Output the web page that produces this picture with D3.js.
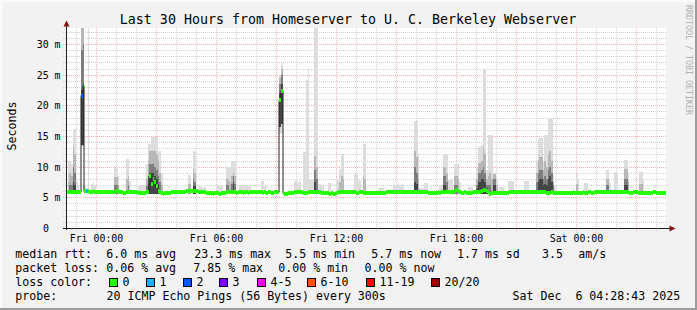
<!DOCTYPE html>
<html><head><meta charset="utf-8">
<script src="https://cdn.jsdelivr.net/npm/d3@7"></script>
<style>
body{margin:0;background:#f2f2f2}
svg{display:block}
text{font-family:"DejaVu Sans Mono",monospace;fill:#000;white-space:pre}
</style>
</head><body>
<svg id="c" width="697" height="310"></svg>
<script>
// ---------------- DATA ----------------
const titleText = "Last 30 Hours from Homeserver to U. C. Berkeley Webserver";
const yAxisTitle = "Seconds";
const watermark = "RRDTOOL / TOBI OETIKER";
const startTime = new Date(2025, 11, 4, 22, 30);   // Thu 22:30
const endTime   = new Date(2025, 11, 6, 4, 30);    // Sat 04:30
const stepMinutes = 5;                              // one slot = 5 minutes

// median rtt (ms), one row per hour, 12 slots of 5 min each, starting Thu 22:30
const median = [
  5.9,5.9,5.85,5.9,5.95,5.9,5.85,5.9,5.9,21.6,23.2,6.0,
  6.0,6.0,5.95,5.95,6.0,5.9,5.9,5.85,5.9,5.9,5.85,5.9,
  5.9,5.9,5.85,5.9,5.9,5.95,6.05,6.1,5.95,5.8,5.75,5.75,
  5.85,5.9,5.9,5.85,5.85,5.8,5.8,5.75,5.7,5.7,5.7,5.75,
  5.8,5.9,8.4,7.2,8.0,7.5,6.8,6.1,5.8,5.7,5.6,5.65,
  5.7,5.7,5.75,5.8,5.85,5.9,5.9,5.85,5.9,5.85,5.8,5.85,
  6.05,6.1,6.05,6.0,6.05,6.1,6.0,5.95,5.9,5.9,5.85,5.8,
  5.75,5.7,5.65,5.65,5.6,5.65,5.7,5.65,5.6,5.65,5.7,5.75,
  5.85,5.9,5.9,5.85,5.85,5.8,5.75,5.8,5.85,5.8,5.75,5.8,
  5.8,5.75,5.8,5.9,5.95,5.95,5.9,5.85,5.8,5.8,5.75,5.8,
  5.75,5.8,5.8,5.75,5.75,5.8,5.8,5.8,20.8,22.4,5.65,5.6,
  5.6,5.65,5.7,5.75,5.75,5.8,5.8,5.8,5.85,5.8,5.75,5.75,
  5.75,5.8,5.8,5.85,5.85,5.9,5.9,5.85,5.8,5.75,5.7,5.65,
  5.7,5.65,5.6,5.65,5.5,5.6,5.75,5.85,5.9,5.9,5.85,5.9,
  5.9,5.85,5.85,5.8,5.8,5.8,5.75,5.75,5.8,5.8,5.75,5.75,
  5.75,5.75,5.7,5.7,5.7,5.75,5.7,5.7,5.65,5.65,5.7,5.75,
  5.8,5.85,5.9,5.9,5.9,5.95,5.95,5.9,5.9,5.85,5.85,5.9,
  5.9,5.85,5.85,5.85,5.9,5.9,5.85,5.85,5.85,5.9,5.85,5.8,
  5.8,5.75,5.75,5.75,5.7,5.75,5.75,5.8,5.75,5.8,5.85,5.85,
  5.85,5.8,5.8,5.85,5.9,6.0,6.2,6.05,5.8,5.75,5.75,5.8,
  5.75,5.7,5.7,5.75,5.8,5.8,5.85,5.9,5.95,6.0,6.2,6.25,
  6.1,5.8,5.6,5.65,5.7,5.75,5.7,5.75,5.7,5.75,5.7,5.75,
  5.75,5.75,5.8,5.85,5.9,5.95,5.95,5.95,5.9,5.9,5.9,5.85,
  5.85,5.8,5.8,5.8,5.85,5.85,5.9,5.9,5.9,5.85,5.9,5.85,
  5.7,5.7,5.75,5.8,5.75,5.7,5.75,5.75,5.7,5.75,5.75,5.7,
  5.75,5.75,5.7,5.75,5.8,5.75,5.75,5.7,5.7,5.75,5.8,5.75,
  5.75,5.8,5.8,5.75,5.75,5.8,5.8,5.85,5.85,5.85,5.8,5.85,
  5.85,5.85,5.8,5.85,5.9,5.9,5.85,5.85,5.85,5.9,5.9,5.85,
  5.8,5.8,5.75,5.75,5.8,5.85,5.8,5.75,5.75,5.7,5.75,5.75,
  5.75,5.75,5.7,5.75,5.8,5.8,5.75,5.75,5.75,5.7,5.75,5.7
];

// lost pings (out of 20) in the slots that had loss
const lossSlot  = [9, 10, 12];
const lossCount = [2, 2, 1];

// smoke: lowest ping of a slot, and the tops of the 4 gray bands [slot, ms]
const smokeFloor = 5.5;
const raisedSlot  = [9, 10, 128, 129];
const raisedOuter = [13.2, 13.2, 15.3, 15.5];
const raisedInner = [13.5, 13.5, 16.5, 17.0];

const smokeOuter = [
 [1,11.0],[2,11.0],[3,10.5],[4,16.2],[5,16.2],[6,7.5],[7,7.0],[9,34],[10,34],[11,7.0],[13,34],
 [15,7.2],[16,7.5],[17,7.0],[29,9.9],[30,9.9],[31,8.5],[36,11.3],[37,11.3],[38,7.6],
 [43,6.8],[44,7.0],[45,7.0],[46,6.8],[47,6.9],[48,10.5],[49,13.7],[50,13.7],[51,14.8],[52,14.8],[53,14.8],[54,14.8],[55,12.6],[56,12.6],[57,9.0],
 [73,8.6],[74,8.6],[76,12.6],[77,12.6],[79,6.7],[80,6.8],[81,6.7],[82,6.6],[83,6.7],
 [90,6.9],[91,7.0],[92,6.9],[93,6.8],[96,9.9],[97,9.9],[98,9.9],[99,11.0],[100,11.0],[101,11.0],
 [104,7.0],[105,7.0],[106,6.9],[107,7.0],[108,7.0],[109,6.9],[110,7.0],[117,7.6],[118,7.6],[119,6.8],
 [128,25.0],[129,26.9],[137,7.6],[138,7.6],[139,7.4],[140,7.6],[142,12.4],[143,12.4],[144,24.1],[145,26.0],[146,7.8],[147,7.8],[148,7.8],[149,34],[150,34],[151,7.2],[152,7.2],[153,7.0],[154,7.2],
 [157,7.4],[158,7.4],[162,7.8],[163,7.8],[164,9.7],[165,12.1],[166,12.1],[173,8.8],[174,8.8],[175,8.0],[176,7.6],[178,13.7],[179,13.7],
 [187,6.6],[188,6.6],[189,6.6],[190,6.6],[196,7.3],[197,7.0],[198,7.2],[199,7.3],[200,7.0],[201,7.2],[202,7.0],
 [209,17.5],[210,17.5],[211,12.0],[212,6.6],[213,6.6],[214,6.6],[215,7.3],[216,7.3],[224,7.0],[225,7.0],[226,12.1],[227,12.1],[228,12.1],[229,7.8],[230,7.8],[231,7.8],[233,10.5],[234,10.5],[235,10.5],[236,7.5],
 [241,6.7],[242,6.7],[243,6.7],[246,10.0],[247,13.2],[248,13.2],[249,13.5],[250,25.9],[251,25.9],[252,9.5],[253,15.1],[254,15.1],[255,15.1],[256,9.0],[257,9.0],[258,8.0],
 [260,6.7],[261,6.7],[262,6.7],[265,7.6],[266,7.6],[267,7.6],[268,7.6],[275,7.6],[276,7.6],[277,7.6],
 [282,11.0],[283,14.4],[284,14.6],[285,14.6],[286,11.0],[287,15.1],[288,15.1],[289,17.7],[290,17.7],[291,17.7],[292,8.6],[293,7.0],
 [306,8.9],[307,8.0],[311,7.3],[312,7.3],[324,9.4],[325,9.4],[326,7.5],[329,9.1],[330,9.1],[335,11.1],[336,11.1],[337,9.0],[344,9.1],[345,9.1],[346,8.0]
];
const smokeBand2 = [
 [1,7.5],[2,9.0],[3,8.5],[4,13.2],[5,12.0],[9,33],[10,34],[29,8.3],[30,8.3],[31,7.0],[36,8.0],[37,8.5],
 [48,8.0],[49,11.0],[50,12.5],[51,12.5],[52,12.6],[53,12.6],[54,12.0],[55,11.0],[56,9.0],[57,7.0],
 [73,7.2],[74,7.2],[76,9.7],[77,9.0],[96,8.0],[97,8.0],[98,7.5],[99,8.5],[100,9.0],[101,8.5],
 [128,24.5],[129,26.0],[149,11.8],[150,10.0],[164,7.5],[165,8.5],[166,8.0],[178,8.5],[179,8.0],
 [209,12.5],[210,11.5],[211,8.0],[226,10.0],[227,10.0],[228,9.0],[233,8.5],[234,8.5],[235,8.0],
 [246,8.0],[247,10.6],[248,10.6],[249,11.0],[250,13.2],[251,12.0],[252,8.0],[253,8.5],[254,9.0],[255,8.0],[256,8.8],[257,8.8],[258,7.0],
 [282,9.0],[283,11.1],[284,11.6],[285,11.6],[286,9.5],[287,11.0],[288,10.0],[289,12.0],[290,12.6],[291,11.0],[292,7.5],
 [306,7.2],[324,8.0],[325,8.0],[335,9.7],[336,9.7],[337,7.5],[344,7.2],[345,7.2]
];
const smokeBand3 = [
 [2,7.0],[3,7.0],[4,10.0],[5,9.0],[9,29],[10,30],[29,7.0],[30,7.0],[37,7.0],
 [48,6.8],[49,8.5],[50,10.5],[51,10.5],[52,10.5],[53,10.0],[54,9.5],[55,8.5],[56,7.5],
 [76,8.0],[77,7.5],[96,7.0],[97,7.0],[99,7.2],[100,8.5],[101,7.2],
 [128,23.5],[129,25.0],[149,9.5],[150,8.0],[209,10.0],[210,9.0],[226,8.5],[227,8.5],[228,7.5],[233,7.0],[234,7.0],
 [246,7.0],[247,9.0],[248,9.0],[249,9.5],[250,10.0],[251,9.0],[252,7.0],[253,7.0],[254,7.0],[256,8.0],[257,8.0],
 [282,7.5],[283,9.0],[284,9.5],[285,9.5],[286,8.0],[287,8.5],[288,8.0],[289,9.5],[290,10.0],[291,9.0],[292,7.0],
 [324,7.0],[325,7.0],[335,8.0],[336,8.0]
];
const smokeBand4 = [
 [4,7.5],[5,7.0],[9,22.5],[10,23.5],[49,7.2],[50,9.0],[51,9.0],[52,9.0],[53,8.5],[54,8.0],[55,7.2],
 [76,6.8],[77,6.8],[100,7.5],[128,22.0],[129,23.5],[149,7.5],[209,7.5],[210,7.2],[226,7.0],[227,7.0],
 [246,6.3],[247,7.5],[248,7.5],[249,8.0],[250,8.0],[251,7.5],[252,6.5],[256,7.0],[257,7.0],
 [283,7.5],[284,8.0],[285,8.0],[286,7.0],[287,7.2],[288,7.0],[289,8.0],[290,8.5],[291,7.5],[335,7.0],[336,7.0]
];

// y axis ticks
const yTickValues = [0, 5, 10, 15, 20, 25, 30];
const yTickLabels = ["0", "5 m", "10 m", "15 m", "20 m", "25 m", "30 m"];

// legend
const rttStats  = ["median rtt:", "6.0 ms avg", "23.3 ms max", "5.5 ms min", "5.7 ms now", "1.7 ms sd", "3.5", "am/s"];
const lossStats = ["packet loss:", "0.06 % avg", "7.85 % max", "0.00 % min", "0.00 % now"];
const lossLegendTitle = "loss color:";
const lossLabels = ["0", "1", "2", "3", "4-5", "6-10", "11-19", "20/20"];
const lossColors = ["#26ff00", "#00b8ff", "#0059ff", "#7e00ff", "#ff00ff", "#ff5500", "#ff0000", "#a10000"];
const probeLine  = ["probe:", "20 ICMP Echo Pings (56 Bytes) every 300s", "Sat Dec  6 04:28:43 2025"];

// ---------------- DRAW ----------------
const W = 697, H = 310;
const svg = d3.select("#c");
const x = d3.scaleTime().domain([startTime, endTime]).range([66, 666]);
const y = d3.scaleLinear().domain([0, 32.61]).range([228, 28]);
const slotTime = i => d3.timeMinute.offset(startTime, i * stepMinutes);
const snap = v => Math.round(v) + 0.5;

// background + frame
svg.append("rect").attr("width", W).attr("height", H).attr("fill", "#f2f2f2");
svg.append("rect").attr("x", 0).attr("y", 0).attr("width", W).attr("height", 2).attr("fill", "#fafafa");
svg.append("rect").attr("x", 0).attr("y", 0).attr("width", 2).attr("height", H).attr("fill", "#fafafa");
svg.append("rect").attr("x", 0).attr("y", H - 2).attr("width", W).attr("height", 2).attr("fill", "#9c9c9c");
svg.append("rect").attr("x", W - 2).attr("y", 0).attr("width", 2).attr("height", H).attr("fill", "#9c9c9c");

// canvas
svg.append("rect").attr("x", x.range()[0]).attr("y", y.range()[1])
  .attr("width", x.range()[1] - x.range()[0]).attr("height", y.range()[0] - y.range()[1])
  .attr("fill", "#ffffff");

// grid
const grid = svg.append("g").attr("stroke-width", 1).attr("stroke-dasharray", "1,1").attr("fill", "none");
const hours = d3.timeHour.range(d3.timeHour.ceil(startTime), endTime);
hours.forEach(h => {
  const major = h.getHours() % 3 === 0;
  grid.append("line").attr("x1", snap(x(h))).attr("x2", snap(x(h)))
    .attr("y1", 28).attr("y2", 231)
    .attr("stroke", major ? "#f6b2b2" : "#d2d2d2");
});
d3.range(1, 33).forEach(v => {
  const major = v % 5 === 0;
  grid.append("line").attr("x1", 63).attr("x2", 666)
    .attr("y1", snap(y(v))).attr("y2", snap(y(v)))
    .attr("stroke", major ? "#f6b2b2" : "#d2d2d2");
});

// clip for data
svg.append("defs").append("clipPath").attr("id", "plotclip").append("rect")
  .attr("x", 66).attr("y", 28).attr("width", 600).attr("height", 200.5);
const plot = svg.append("g").attr("clip-path", "url(#plotclip)");

// smoke
const floorOuter = s => { const k = raisedSlot.indexOf(s); return k < 0 ? smokeFloor : raisedOuter[k]; };
const floorInner = s => { const k = raisedSlot.indexOf(s); return k < 0 ? smokeFloor : raisedInner[k]; };
const layers = [
  {data: smokeOuter, color: "#dddddd", floor: floorOuter},
  {data: smokeBand2, color: "#b7b7b7", floor: floorInner},
  {data: smokeBand3, color: "#7e7e7e", floor: floorInner},
  {data: smokeBand4, color: "#454545", floor: floorInner}
];
layers.forEach(L => {
  plot.append("g").attr("fill", L.color).attr("shape-rendering", "crispEdges")
    .selectAll("rect").data(L.data).join("rect")
    .attr("x", d => x(slotTime(d[0])))
    .attr("width", d => x(slotTime(d[0] + 1)) - x(slotTime(d[0])))
    .attr("y", d => y(d[1]))
    .attr("height", d => y(L.floor(d[0])) - y(d[1]));
});

// median: thin dark line
const medPts = median.map((v, i) => ({t: slotTime(i), v}));
medPts.push({t: endTime, v: median[median.length - 1]});
plot.append("path").datum(medPts)
  .attr("fill", "none").attr("stroke", "#202020").attr("stroke-width", 1)
  .attr("d", d3.line().x(d => snap(x(d.t)) - 0.5).y(d => y(d.v)).curve(d3.curveStepAfter));

// median: colored loss band
const lossClass = c => c === 0 ? 0 : c === 1 ? 1 : c === 2 ? 2 : c === 3 ? 3 : c <= 5 ? 4 : c <= 10 ? 5 : c <= 19 ? 6 : 7;
const medData = median.map((v, i) => {
  const k = lossSlot.indexOf(i);
  return {i, v, cls: lossClass(k < 0 ? 0 : lossCount[k])};
});
plot.append("g").attr("shape-rendering", "crispEdges")
  .selectAll("rect").data(medData).join("rect")
  .attr("x", d => x(slotTime(d.i)))
  .attr("width", d => x(slotTime(d.i + 1)) - x(slotTime(d.i)))
  .attr("y", d => Math.round(y(d.v)) - 2)
  .attr("height", 4)
  .attr("fill", d => lossColors[d.cls]);

// axes
svg.append("line").attr("x1", 66.5).attr("x2", 66.5).attr("y1", 230).attr("y2", 24)
  .attr("stroke", "#222").attr("stroke-width", 1);
svg.append("line").attr("x1", 63).attr("x2", 670).attr("y1", 228.5).attr("y2", 228.5)
  .attr("stroke", "#222").attr("stroke-width", 1);
svg.append("path").attr("d", "M66.5,20.5 L63.5,26.5 L69.5,26.5 Z").attr("fill", "#8a1414");
svg.append("path").attr("d", "M675.5,228.5 L669.5,225.5 L669.5,231.5 Z").attr("fill", "#8a1414");

// y tick labels
svg.append("g").selectAll("text").data(yTickValues).join("text")
  .attr("x", (d, i) => yTickLabels[i].indexOf("m") < 0 ? 49 : 60.5)
  .attr("y", d => Math.round(y(d)) + 4)
  .attr("text-anchor", "end").attr("font-size", "9.9px")
  .text((d, i) => yTickLabels[i]);

// x tick labels
const fmt = d3.timeFormat("%a %H:%M");
svg.append("g").selectAll("text").data(hours.filter(h => h.getHours() % 6 === 0)).join("text")
  .attr("x", d => x(d) + 0.5).attr("y", 241.5)
  .attr("text-anchor", "middle").attr("font-size", "9.9px")
  .text(d => fmt(d));

// title, axis title, watermark
svg.append("text").attr("x", 348).attr("y", 24).attr("text-anchor", "middle")
  .attr("font-size", "13.3px").text(titleText);
svg.append("text").attr("transform", "translate(15.5,126) rotate(-90)")
  .attr("text-anchor", "middle").attr("font-size", "11.6px").text(yAxisTitle);
svg.append("text").attr("transform", "translate(685.5,5) rotate(90)")
  .attr("font-size", "8.3px").style("fill", "#b0b0b0").text(watermark);

// legend
const LF = "11.6px";
const rttX  = [15.3, 106.3, 194.3, 285.3, 371.3, 457.0, 542.0, 578.3];
const lossX = [15.3, 106.3, 193.3, 278.3, 364.6];
const probeX = [15.3, 106.6, 512.6];
const boxX = [109, 146, 183, 219, 257, 307, 366, 431];
const leg = svg.append("g").attr("font-size", LF);
rttStats.forEach((s, i) => leg.append("text").attr("x", rttX[i]).attr("y", 258.4).text(s));
lossStats.forEach((s, i) => leg.append("text").attr("x", lossX[i]).attr("y", 272.2).text(s));
leg.append("text").attr("x", 15.3).attr("y", 286.1).text(lossLegendTitle);
lossLabels.forEach((s, i) => {
  leg.append("rect").attr("x", boxX[i] + 0.5).attr("y", 278.5).attr("width", 8).attr("height", 8)
    .attr("fill", lossColors[i]).attr("stroke", "#000").attr("stroke-width", 1);
  leg.append("text").attr("x", boxX[i] + 13.5).attr("y", 286.1).text(s);
});
probeLine.forEach((s, i) => leg.append("text").attr("x", probeX[i]).attr("y", 299.9).text(s));
</script>
</body></html>
